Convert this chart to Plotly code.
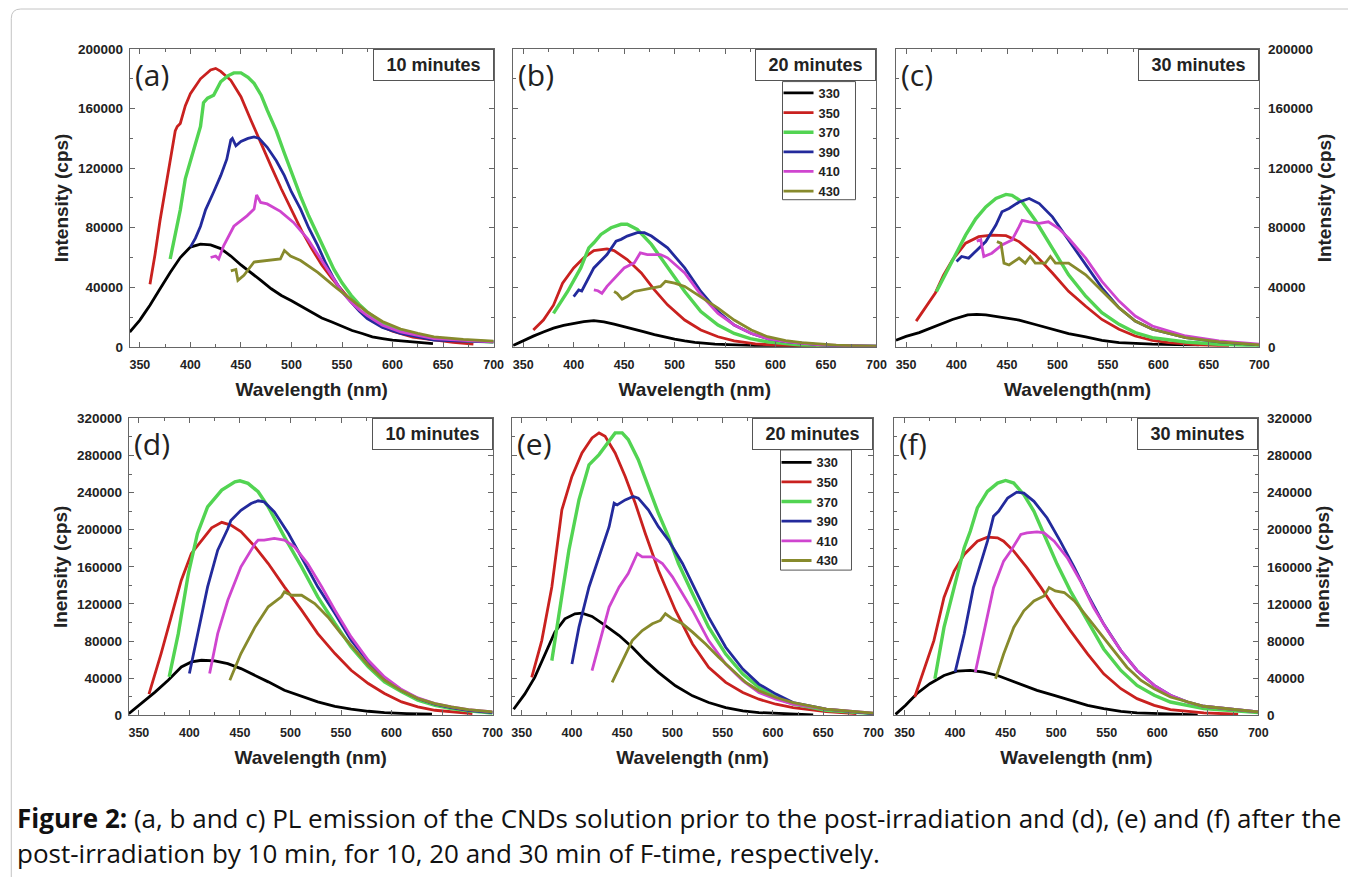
import plotly.graph_objects as go

W, H = 1358, 885

# ---------------- data (wavelength in nm, intensity in thousands of cps) ----------------
SERIES = ["330", "350", "370", "390", "410", "430"]
X_TICKS = [350, 400, 450, 500, 550, 600, 650, 700]
Y_TICKS_TOP = [0, 40000, 80000, 120000, 160000, 200000]
Y_TICKS_BOTTOM = [0, 40000, 80000, 120000, 160000, 200000, 240000, 280000, 320000]

# (a) 10 minutes, before post-irradiation
A_330_WL = [340,345,350,355,360,370,380,390,400,410,420,430,440,450,460,470,480,490,500,510,520,530,540,550,560,570,580,590,600,620,640]
A_330_I = [10,14,18,23,28,39,50,60,67,69,68.5,66,61,55,50,44.5,39,34.5,31,27,23.4,19.4,16.7,14,11,9,6.7,5.6,4.5,3.3,2.2]
A_350_WL = [360,365,370,375,380,385,387,390,395,400,410,420,425,430,440,450,460,470,480,490,500,510,520,530,540,550,560,570,580,590,600,620,640,660,680]
A_350_I = [42,62,85,105,125,145,148,150,162,170,180,186,187,185,179,168,152,136,121,106,92,78,66,55,46,38,30,23,17.5,13.5,10.5,6.5,4.5,3,1.8]
A_370_WL = [380,385,390,395,400,405,410,413,417,423,430,437,443,450,457,463,470,476,485,493,500,509,517,526,534,542,550,559,567,575,590,608,625,641,670,700]
A_370_I = [59,76,92,113,125,135,148,164,167,169,178,182,184,184,181,177,169,159,145,130,117,101,88,75,63,52,43,34.6,28.5,23.4,16,11,7.8,5.6,4.2,3.3]
A_390_WL = [400,405,410,415,423,430,436,440,441.5,445,450,457,463,468,476,485,493,500,509,517,526,534,542,550,559,567,575,590,608,625,641,670,700]
A_390_I = [67,73,81,92,104,115,126,139,140,135,138,140,141,140,134,125,115,104,92.5,80,68,56,45.7,37,30,24,19,13,9,6.5,4.5,3.8,3.3]
A_410_WL = [420,425,428,433,443,456,463,465.5,469.5,476,489,502,516,529,542,550,559,567,575,590,608,625,641,670,700]
A_410_I = [60,61,59,68,81,88,92.5,102,97,96,91,83.6,72.5,59,45.7,37,30,25,21,14.5,10,7.5,5.6,4.3,3.3]
A_430_WL = [440,445,447,453,463,476,489,493,499,509,526,542,559,575,590,608,625,641,670,700]
A_430_I = [51,52,44.6,48,57,58,59,64.7,61,58,50,41,32,23.4,17,12,9,6.7,5,3.8]

# (b) 20 minutes
B_330_WL = [340,350,360,370,380,390,400,410,420,430,440,450,460,470,480,490,500,510,520,540,560,580,600,620,640]
B_330_I = [1,4.2,7.2,10,12.6,14.4,15.8,17,17.6,16.8,15.2,13.6,11.8,10,8.2,6.5,5.2,4,3,1.9,1.3,0.9,0.7,0.6,0.5]
B_350_WL = [360,370,380,389,400,410,420,433,440,453,467,480,493,510,526,543,559,580,600,640,680]
B_350_I = [11.3,18,28,42.8,53,59.8,64.7,65.8,64.7,58.6,49.6,38.3,28.2,18,11.3,6.8,4,2,1.2,0.5,0.2]
B_370_WL = [380,394,407,415,420,427,437,447,453,463,477,493,510,526,543,559,575,592,610,625,650,675,700]
B_370_I = [22.5,37.2,53,66.5,69.9,75.5,80,82.3,82.3,78.9,68.8,53,37.2,23.7,14.7,9,5.5,3.4,2,1.2,0.8,0.5,0.3]
B_390_WL = [400,405,408,420,433,442,447,453,463,470,477,493,510,526,543,559,576,592,610,626,645,660,680,700]
B_390_I = [33.8,38.3,37.5,53,62,71,72.2,74.4,76.7,76.7,74.4,66.5,53,37.2,23.7,14.7,9,5.6,3.5,2.3,1.3,0.9,0.6,0.4]
B_410_WL = [420,424,428,433,450,460,466,473,486,493,510,526,543,559,576,592,610,626,645,660,680,700]
B_410_I = [38.3,37.7,36,40.6,53,56.4,63.1,62,62,59.8,49.6,35,22.5,14.7,9,5.6,3.6,2.3,1.4,0.9,0.6,0.4]
B_430_WL = [440,443,448,453,460,477,486,491,500,510,526,543,559,576,592,610,626,645,660,680,700]
B_430_I = [37.2,36,32,33.8,37.2,39.5,40.6,44,42.8,40.6,33.8,26,18,11.3,6.8,4.2,2.9,1.8,1.1,0.7,0.5]

# (c) 30 minutes
C_330_WL = [340,350,363,379,396,411,420,429,445,462,478,495,511,528,544,561,578,594,617,640]
C_330_I = [4.4,7,9.6,14,18.4,21.5,21.8,21.5,20,18,15,11.8,8.9,6.7,4.4,2.9,2.2,1.8,1.5,1.3]
C_350_WL = [360,370,379,387,396,409,422,435,449,462,478,495,511,528,544,561,577,594,610,640,670]
C_350_I = [17.3,27,36.2,48,58.4,69.6,74,75.1,74.7,70.7,61.8,49.6,37.3,27.3,18.4,11.8,7.3,4.4,2.9,1.3,0.6]
C_370_WL = [380,396,409,419,429,439,449,455,465,478,495,511,528,544,561,577,594,627,660,700]
C_370_I = [37,57.3,75,86,94,99.6,102.4,101.8,97.3,85,66.2,48.4,34,22.9,15.1,9.6,6.2,3.3,1.8,0.7]
C_390_WL = [400,405,412,419,429,439,445,452,462,472,482,495,511,528,544,561,577,594,627,660,700]
C_390_I = [57.3,60.7,59.6,64,70.7,81.8,90.7,92.9,97.3,99.6,96.2,87.3,71.8,55,39.6,26.2,17.3,11.8,6.2,3.3,1.3]
C_410_WL = [420,424,427,435,445,455,462,465,472,482,491,501,511,528,544,561,577,594,627,660,700]
C_410_I = [71,72,60.7,62.9,68.4,71.8,80.7,85,84,82.9,84,79.6,72.9,59.6,44,30.7,20.7,14,7.3,4,1.8]
C_430_WL = [440,444,447,452,462,468,473,478,488,493,498,511,528,544,561,577,594,627,660,700]
C_430_I = [70.7,69.6,56.2,55,59.6,56.2,60.7,56.2,56.2,60.7,56.2,56.2,48.4,37.3,26.2,17.3,11.8,6.2,3.3,1.3]

# (d) 10 minutes, after post-irradiation
D_330_WL = [340,352,366,379,392,402,412,425,438,451,465,478,494,511,527,544,560,577,593,615,640]
D_330_I = [1.8,12.6,25,37.8,52,57.5,59.3,58.6,55.7,50.3,43.1,36,27,20.5,14.4,9.7,6.5,4.3,2.9,1.8,1.1]
D_350_WL = [360,365,372,382,392,402,412,422,432,441,451,465,478,494,511,527,544,560,577,593,610,626,643,660,680]
D_350_I = [22.7,40,66.5,106,145.6,174.4,188.8,202,208,205,198,181.6,163.6,138.4,113.3,88,66.5,48.5,34.2,23.4,14.4,9,5.4,3.5,1.8]
D_370_WL = [380,389,399,408,418,432,445,450,458,468,478,494,511,527,544,560,577,593,610,626,643,659,676,700]
D_370_I = [41.4,88,152.8,196,224.7,242.7,251.7,252.8,250,241,224.7,192.4,160,127.7,98.9,73.7,52.1,36,25.2,16.2,10.8,7.2,4.7,2.5]
D_390_WL = [400,408,418,428,438,441,445,451,461,468,474,484,498,511,527,544,560,577,593,610,626,643,659,676,700]
D_390_I = [45,88,138.4,178,201,210,214,221,228.3,231.2,230,219.3,196,170.8,138.4,109.7,80.9,57.5,39.6,27,18,11.9,8.3,5.4,2.9]
D_410_WL = [420,428,438,451,465,468,474,484,494,504,517,531,544,560,577,593,610,626,643,659,676,700]
D_410_I = [45,88,124,160,185.2,188.8,188.8,190.6,188.8,181.6,163.6,138.4,113.3,84.5,59.3,41.4,27.7,18.7,12.6,9,6.1,3.6]
D_430_WL = [440,451,465,478,491,494,501,511,524,537,550,564,577,593,610,626,643,659,676,700]
D_430_I = [37.8,66.5,95.3,116.9,127.7,133,129.4,129.4,120.5,106,88,70,54,37.8,26.3,18,12.6,9,6.1,3.6]

# (e) 20 minutes
E_330_WL = [342,353,363,373,383,393,403,410,420,433,447,460,473,486,503,520,536,553,570,586,610,640]
E_330_I = [6.5,22.8,40.8,66,89.6,104,109.4,110.1,106.5,96.8,86,73.3,58.9,46.2,31.8,20.9,13.7,8.3,4.7,2.9,1.5,0.4]
E_350_WL = [360,370,380,390,400,410,420,427,433,443,453,463,473,486,503,520,536,553,570,586,603,620,653,683]
E_350_I = [40.8,80.5,138.3,221.4,257.5,282.8,299,304.4,300.8,282.8,257.5,228.6,196,156.4,113,76.9,51.6,35.4,24.6,17.3,11.9,8.3,4,1.8]
E_370_WL = [380,387,397,407,415,417,427,437,443,450,456,466,476,486,496,506,520,536,553,570,586,603,620,653,700]
E_370_I = [58.9,105.8,178,232.2,264.7,270,281,295.4,304.4,304.4,297.2,275.5,246.7,217.8,192.5,163.6,131,95,66,44.4,30,19.1,11.9,5.4,1.8]
E_390_WL = [400,407,417,427,437,442,445,453,461,466,476,486,496,510,520,536,553,570,586,603,620,653,700]
E_390_I = [55.3,95,138.3,170.8,203.3,228.6,226.8,232.2,235.8,234,221.4,203.3,188.9,163.6,142,105.8,73.3,49.8,33.6,22.8,13.7,6.5,1.8]
E_410_WL = [420,427,437,447,456,465,470,480,490,500,510,520,536,553,570,586,603,620,653,700]
E_410_I = [48,77,116.6,138.3,152.8,174.4,170.8,170.8,163.6,149.2,131,113,80.5,55.3,37.2,24.6,17.3,11.9,6.5,2.2]
E_430_WL = [440,450,460,470,480,488,493,500,510,520,533,546,560,573,586,603,620,653,700]
E_430_I = [35.4,58.9,80.5,91.4,98.6,102.2,109.4,104,98.6,89.6,76.9,62.5,48,35.4,26.4,19.1,13.7,6.5,2.2]

# (f) 30 minutes
F_330_WL = [341,351,362,375,389,402,415,428,442,455,468,481,498,514,531,547,564,580,610,640]
F_330_I = [1,10.7,23.2,34,42.9,47.6,48.3,46.5,42.9,37.5,32.2,26.8,21.5,16.1,10.7,7.2,4.3,2.5,1.2,0.5]
F_350_WL = [360,369,379,389,399,409,422,432,442,448,458,471,485,498,514,531,547,564,580,597,613,646,680]
F_350_I = [19.7,48.3,80.4,127,155.5,173.4,187.7,192,191.3,187.7,177,159.1,137.6,116.2,91.2,66.1,44.7,28.6,17.9,10.7,6.1,2.5,1.1]
F_370_WL = [380,389,399,409,415,422,432,442,450,458,468,478,488,501,514,531,547,564,580,597,613,646,700]
F_370_I = [39.3,94.7,137.6,180.6,198.4,223.5,241.3,250.3,253.1,250.3,237.8,219.9,194.9,162.7,134.1,101.9,71.5,48.3,32.2,21.5,14.3,7.2,2.9]
F_390_WL = [400,409,418,432,438,443,452,461,468,478,491,504,518,531,547,564,580,597,613,630,646,700]
F_390_I = [46.5,87.6,137.6,187.7,214.5,219.9,234.2,240.6,239.5,230.6,212.7,187.7,159.1,130.5,98.3,69.7,48.3,32.2,21.5,14.3,9.7,3.6]
F_410_WL = [420,428,438,448,455,465,471,481,488,498,511,524,537,551,564,580,597,613,630,646,700]
F_410_I = [46.5,87.6,137.6,166.2,177,194.9,196.6,197.7,196.6,187.7,169.8,144.8,116.2,91.2,69.7,48.3,32.2,21.5,14.3,9.7,3.6]
F_430_WL = [440,448,458,468,478,488,493,499,508,518,531,544,557,570,584,597,613,630,646,700]
F_430_I = [39.3,66.1,94.7,112.6,123.3,128.7,137.6,134.1,132.3,123.3,105.5,87.6,69.7,51.8,37.5,28.6,19.7,14.3,9.7,3.6]

PANEL_DATA = {
    "a": [(A_330_WL, A_330_I), (A_350_WL, A_350_I), (A_370_WL, A_370_I), (A_390_WL, A_390_I), (A_410_WL, A_410_I), (A_430_WL, A_430_I)],
    "b": [(B_330_WL, B_330_I), (B_350_WL, B_350_I), (B_370_WL, B_370_I), (B_390_WL, B_390_I), (B_410_WL, B_410_I), (B_430_WL, B_430_I)],
    "c": [(C_330_WL, C_330_I), (C_350_WL, C_350_I), (C_370_WL, C_370_I), (C_390_WL, C_390_I), (C_410_WL, C_410_I), (C_430_WL, C_430_I)],
    "d": [(D_330_WL, D_330_I), (D_350_WL, D_350_I), (D_370_WL, D_370_I), (D_390_WL, D_390_I), (D_410_WL, D_410_I), (D_430_WL, D_430_I)],
    "e": [(E_330_WL, E_330_I), (E_350_WL, E_350_I), (E_370_WL, E_370_I), (E_390_WL, E_390_I), (E_410_WL, E_410_I), (E_430_WL, E_430_I)],
    "f": [(F_330_WL, F_330_I), (F_350_WL, F_350_I), (F_370_WL, F_370_I), (F_390_WL, F_390_I), (F_410_WL, F_410_I), (F_430_WL, F_430_I)],
}

# ---------------- styling ----------------
COLORS = ["#000000", "#c9211f", "#52d452", "#232a9c", "#cf45cf", "#878a2c"]
WIDTHS = [2.8, 2.8, 3.4, 2.8, 2.8, 2.8]
AX = "#666666"
TXT = "#222222"
FONT = "Liberation Sans"

# measured mapping of the photographed picture vs page pixels (picture = offset + scale * page)
SX, OX = 0.993, -0.8
SY, OY = 0.982, 7.5


def px(x):
    """target picture x (px) -> paper fraction"""
    return min(max(((x - OX) / SX) / W, 0), 1)


def py(y):
    """target picture y (px from top) -> paper fraction"""
    return min(max(1 - ((y - OY) / SY) / H, 0), 1)


# panel: (axis index, left, right, top, bottom px, y ticks, y side, y title, x title, minutes, legend, y-title standoff)
PANELS = {
    "a": (1, 129, 493, 49.5, 347, Y_TICKS_TOP, "left", "Intensity (cps)", "Wavelength (nm)", "10 minutes", None, 4),
    "b": (2, 512.5, 876, 49.5, 347, Y_TICKS_TOP, None, None, "Wavelength (nm)", "20 minutes", "legend", 0),
    "c": (3, 895.5, 1259, 49.5, 347, Y_TICKS_TOP, "right", "Intensity (cps)", "Wavelength(nm)", "30 minutes", None, 5),
    "d": (4, 128, 492, 418.5, 715, Y_TICKS_BOTTOM, "left", "Inensity (cps)", "Wavelength (nm)", "10 minutes", None, 4),
    "e": (5, 511, 873, 418.5, 715, Y_TICKS_BOTTOM, None, None, "Wavelength (nm)", "20 minutes", "legend2", 0),
    "f": (6, 894, 1258, 418.5, 715, Y_TICKS_BOTTOM, "right", "Inensity (cps)", "Wavelength (nm)", "30 minutes", None, 1),
}

fig = go.Figure()
layout = {}
annotations = []

for key, (idx, l, r, t, b, yt, yside, ytitle, xtitle, minutes, leg, ystand) in PANELS.items():
    xa = "x" if idx == 1 else f"x{idx}"
    ya = "y" if idx == 1 else f"y{idx}"
    for (wl, ik), name, col, lw in zip(PANEL_DATA[key], SERIES, COLORS, WIDTHS):
        fig.add_trace(go.Scatter(
            x=wl, y=[v * 1000 for v in ik], mode="lines", name=name,
            line=dict(color=col, width=lw),
            xaxis=xa, yaxis=ya,
            showlegend=leg is not None,
            legend=leg if leg is not None else "legend",
            hoverinfo="skip",
        ))
    common = dict(showgrid=False, zeroline=False, showline=True, linecolor=AX, linewidth=1,
                  mirror="allticks", ticks="inside", ticklen=5, tickwidth=1, tickcolor=AX)
    xcfg = dict(common, domain=[px(l), px(r)], anchor=ya, range=[340, 700],
                tickmode="linear", tick0=X_TICKS[0], dtick=X_TICKS[1] - X_TICKS[0],
                tickfont=dict(family=FONT, size=12.5, color=TXT, weight="bold"),
                ticklabelstandoff=6,
                minor=dict(ticks="inside", ticklen=3, tickcolor=AX, dtick=(X_TICKS[1] - X_TICKS[0]) / 2),
                title=dict(text=xtitle, font=dict(family=FONT, size=19, color=TXT, weight="bold"), standoff=11))
    ycfg = dict(common, domain=[py(b), py(t)], anchor=xa, range=[yt[0], yt[-1]],
                tickmode="linear", tick0=0, dtick=yt[1] - yt[0], tickformat="d",
                tickfont=dict(family=FONT, size=13.5, color=TXT, weight="bold"),
                minor=dict(ticks="inside", ticklen=3, tickcolor=AX, dtick=(yt[1] - yt[0]) / 2))
    if yside is None:
        ycfg["showticklabels"] = False
    else:
        ycfg["side"] = yside
        ycfg["ticklabelstandoff"] = 3 if yside == "left" else 5
        ycfg["title"] = dict(text=ytitle, font=dict(family=FONT, size=19, color=TXT, weight="bold"),
                             standoff=ystand)
    layout["xaxis" if idx == 1 else f"xaxis{idx}"] = xcfg
    layout["yaxis" if idx == 1 else f"yaxis{idx}"] = ycfg

    # minutes box
    annotations.append(dict(
        xref="paper", yref="paper", x=px(r), y=py(t), xanchor="right", yanchor="top",
        text=f"<b>{minutes}</b>", showarrow=False, width=111, height=22, borderpad=4,
        bordercolor="#555555", borderwidth=1, bgcolor="white",
        font=dict(family=FONT, size=18, color=TXT)))
    # panel letter
    annotations.append(dict(
        xref="paper", yref="paper", x=px(l + 3), y=py(t + 25), xanchor="left", yanchor="middle",
        text=f"({key})", showarrow=False,
        font=dict(family="Open Sans", size=30, color=TXT)))

# caption
annotations.append(dict(
    xref="paper", yref="paper", x=px(14), y=py(818), xanchor="left", yanchor="middle",
    text="<b>Figure 2:</b> (a, b and c) PL emission of the CNDs solution prior to the post-irradiation and (d), (e) and (f) after the",
    showarrow=False, align="left", font=dict(family="Open Sans", size=26, color="#111111")))
annotations.append(dict(
    xref="paper", yref="paper", x=px(14), y=py(853), xanchor="left", yanchor="middle",
    text="post-irradiation by 10 min, for 10, 20 and 30 min of F-time, respectively.",
    showarrow=False, align="left", font=dict(family="Open Sans", size=26, color="#111111")))

# legends: entries positioned with Plotly's legend, frame drawn as a box matching the reference
legend_style = dict(font=dict(family=FONT, size=12.8, color=TXT, weight="bold"), bgcolor="rgba(0,0,0,0)",
                    borderwidth=0, tracegroupgap=0, itemwidth=30,
                    xanchor="left", yanchor="top", xref="paper", yref="paper")
LEGEND_BOXES = [(782, 855, 82, 200), (780, 851, 450, 570)]

frame_path = (f"M {px(10.5)},{py(885)} L {px(10.5)},{py(19)} "
              f"Q {px(10.5)},{py(9.5)} {px(20)},{py(9.5)} L {px(1358)},{py(9.5)}")
shapes = [dict(type="path", path=frame_path, xref="paper", yref="paper",
               line=dict(color="#c4c4c4", width=1))]
for (x0, x1, y0, y1) in LEGEND_BOXES:
    shapes.append(dict(type="rect", xref="paper", yref="paper", x0=px(x0), x1=px(x1),
                       y0=py(y1), y1=py(y0), line=dict(color="#555555", width=1),
                       fillcolor="white", layer="above"))

fig.update_layout(
    width=W, height=H, margin=dict(l=0, r=0, t=0, b=0),
    paper_bgcolor="white", plot_bgcolor="white",
    showlegend=True,
    legend=dict(legend_style, x=px(778), y=py(78.5)),
    legend2=dict(legend_style, x=px(776), y=py(447.5)),
    annotations=annotations,
    shapes=shapes,
    **layout,
)

fig.write_html("out.html", config={"displayModeBar": False},
               post_script="document.body.style.margin='0px';")
